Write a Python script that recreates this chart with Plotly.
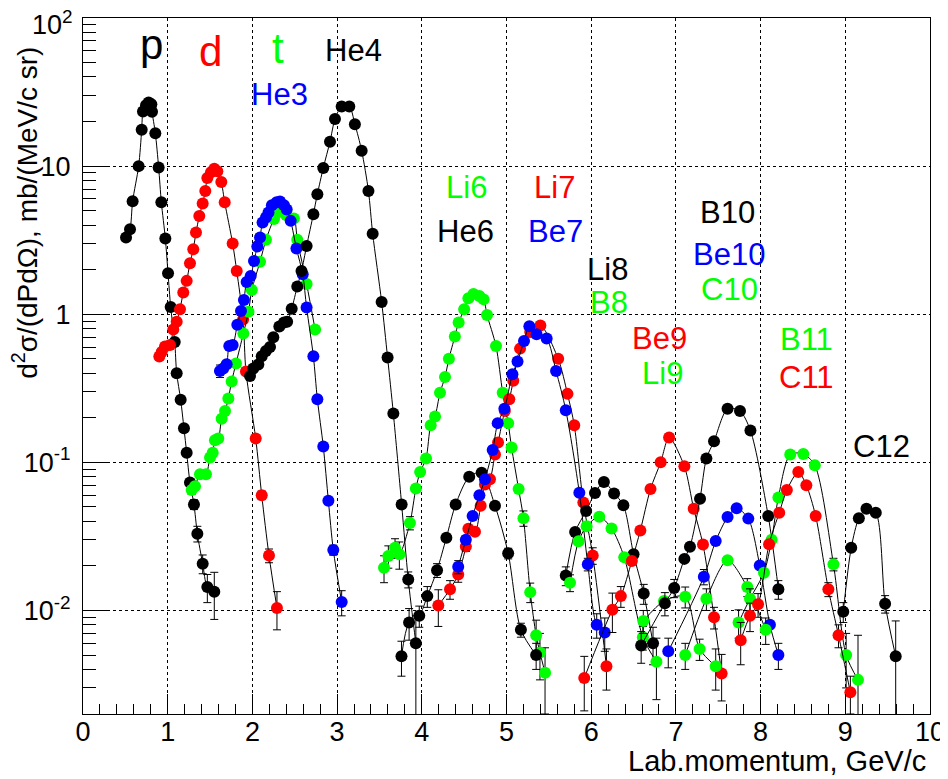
import plotly.graph_objects as go
import math

# ---------------- data ----------------
p_x = [0.508,0.555,0.586,0.657,0.693,0.708,0.744,0.775,0.807,0.815,0.854,0.893,0.925,0.972,1.004,1.035,1.083,1.106,1.153,1.192,1.224,1.263,1.310,1.350,1.413,1.468,1.550]
p_y = [3.3,3.75,5.8,10,17.6,23.4,25.8,26.9,26.2,23.3,16.7,9.8,5.7,3.25,1.89,1.12,0.65,0.40,0.265,0.17,0.116,0.073,0.052,0.033,0.0207,0.0144,0.0134]
p_err = [0,0,0,0,0,0,0,0,0,0,0,0,0,0,0,0,0,0,0,0,0,0,0.004,0.004,0.003,0.0031,0.0047]

d_x = [0.901,0.929,0.968,1.027,1.066,1.106,1.145,1.184,1.224,1.263,1.302,1.334,1.373,1.413,1.444,1.468,1.511,1.550,1.586,1.633,1.673,1.767,1.815,1.890,1.924,2.039,2.110,2.196,2.290]
d_y = [0.518,0.556,0.605,0.62,0.79,0.89,1.08,1.40,1.68,2.21,2.75,3.56,4.6,5.6,6.8,8.3,9.1,9.6,9.25,7.8,5.7,3.0,1.96,0.92,0.41,0.145,0.06,0.0235,0.0104]
d_err = [0.03,0,0,0,0,0,0,0,0,0,0,0,0,0,0,0,0,0,0,0,0,0,0,0,0,0.006,0.004,0.0025,0.003]

t_x = [1.283,1.322,1.381,1.452,1.500,1.531,1.558,1.597,1.637,1.677,1.716,1.755,1.806,1.893,1.954,1.993,2.090,2.160,2.255,2.310,2.397,2.490,2.530,2.640,2.740]
t_y = [0.065,0.069,0.083,0.083,0.108,0.116,0.141,0.145,0.197,0.222,0.270,0.352,0.465,0.740,1.04,1.46,2.26,3.18,4.40,4.90,4.67,4.43,3.18,1.60,0.79]
t_err = [0.004,0.004,0.005,0.005,0,0,0,0,0,0,0,0,0,0,0,0,0,0,0,0,0,0,0,0,0]

he3_x = [1.617,1.656,1.696,1.727,1.767,1.822,1.865,1.900,1.932,1.980,2.019,2.058,2.090,2.120,2.160,2.190,2.230,2.286,2.326,2.373,2.405,2.452,2.520,2.594,2.640,2.720,2.767,2.837,2.897,2.955,3.054]
he3_y = [0.414,0.43,0.46,0.61,0.62,0.85,1.05,1.25,1.65,1.81,2.29,2.87,3.3,4.17,4.5,4.87,5.45,5.7,5.77,5.45,5.1,4.27,2.78,1.86,1.11,0.52,0.267,0.128,0.055,0.0256,0.0114]
he3_err = [0.04,0,0,0,0,0,0,0,0,0,0,0,0,0,0,0,0,0,0,0,0,0,0,0,0,0,0,0,0.003,0.002,0.0022]

he4_x = [1.972,2.010,2.070,2.110,2.160,2.208,2.247,2.318,2.373,2.410,2.464,2.530,2.580,2.640,2.720,2.767,2.837,2.916,2.975,3.054,3.144,3.210,3.290,3.370,3.420,3.526,3.596,3.664,3.762,3.840,3.930]
he4_y = [0.383,0.43,0.457,0.52,0.565,0.60,0.70,0.826,0.88,0.89,1.09,1.54,1.96,2.89,4.74,6.46,9.73,14.6,20.8,25.3,25.3,19.2,12.7,6.8,3.5,1.21,0.51,0.214,0.052,0.0162,0.006]
he4_err = [0,0,0,0,0,0,0,0,0,0,0,0,0,0,0,0,0,0,0,0,0,0,0,0,0,0,0,0,0.003,0.002,0.0032]
he4_errm = [0,0,0,0,0,0,0,0,0,0,0,0,0,0,0,0,0,0,0,0,0,0,0,0,0,0,0,0,0.003,0.002,0.0058]

li6_x = [3.554,3.605,3.684,3.735,3.860,3.930,3.980,4.050,4.105,4.156,4.215,4.274,4.320,4.390,4.435,4.500,4.550,4.610,4.680,4.730,4.770,4.876,4.955,5.020,5.060,5.143,5.200,5.280,5.350,5.395,5.455]
li6_y = [0.0194,0.0233,0.0265,0.024,0.039,0.0667,0.086,0.106,0.178,0.204,0.295,0.377,0.50,0.707,0.88,1.08,1.28,1.37,1.33,1.26,0.99,0.61,0.295,0.184,0.126,0.066,0.042,0.0133,0.0068,0.0052,0.0038]
li6_err = [0.004,0.004,0.004,0.005,0.004,0,0,0,0,0,0,0,0,0,0,0,0,0,0,0,0,0,0,0,0,0,0.005,0.002,0.0018,0.0018,0.0018]

he6_x = [3.760,3.850,3.970,4.065,4.180,4.290,4.400,4.560,4.706,4.864,5.020,5.170,5.350]
he6_y = [0.0049,0.0083,0.0092,0.0125,0.0187,0.031,0.052,0.080,0.085,0.051,0.0243,0.0074,0.0050]
he6_err = [0.0013,0.002,0.0015,0.002,0.002,0,0,0,0,0,0.002,0.0008,0.001]

li7_x = [4.195,4.333,4.430,4.520,4.550,4.628,4.695,4.746,4.805,4.864,4.900,4.980,5.033,5.080,5.160,5.280,5.400,5.610,5.720,5.800,5.907,6.018,6.180]
li7_y = [0.0108,0.0139,0.0175,0.027,0.0356,0.034,0.051,0.071,0.077,0.113,0.136,0.222,0.267,0.355,0.586,0.76,0.84,0.50,0.29,0.178,0.0536,0.0235,0.0042]
li7_err = [0.003,0.002,0.002,0.002,0,0,0,0,0,0,0,0,0,0,0,0,0,0,0,0,0,0.003,0.0013]

be7_x = [4.430,4.520,4.600,4.680,4.746,4.837,4.896,4.975,5.070,5.130,5.207,5.270,5.355,5.474,5.585,5.700,5.860,5.960,6.065,6.160]
be7_y = [0.0197,0.030,0.0434,0.060,0.077,0.121,0.184,0.23,0.394,0.48,0.66,0.83,0.733,0.685,0.414,0.225,0.0624,0.0205,0.008,0.0071]
be7_err = [0.002,0.002,0,0,0,0,0,0,0,0,0,0,0,0,0,0,0,0.002,0.0015,0.0018]

li8_x = [5.70,5.81,5.94,6.045,6.15,6.27,6.38,6.50,6.62,6.73]
li8_y = [0.0172,0.0339,0.047,0.062,0.0736,0.0617,0.0514,0.024,0.013,0.006]
li8_err = [0.0025,0,0,0,0,0,0,0,0.002,0.0017]

b8_x = [5.75,5.85,5.946,6.095,6.24,6.39,6.61,6.77]
b8_y = [0.0154,0.0293,0.037,0.043,0.0358,0.0229,0.0066,0.0045]
b8_err = [0.002,0,0,0,0,0,0.0012,0.002]

be9_x = [5.918,6.25,6.35,6.48,6.58,6.70,6.82,6.92,7.10,7.21,7.32,7.45,7.54]
be9_y = [0.0035,0.0101,0.0125,0.0216,0.0347,0.066,0.10,0.147,0.094,0.0486,0.0279,0.009,0.00375]
be9_err = [0.0014,0.003,0.002,0,0,0,0,0,0,0,0,0.0015,0.0013]

li9_x = [6.615,6.86,7.11,7.28,7.47]
li9_y = [0.0085,0.0116,0.0124,0.0055,0.0042]
li9_err = [0.0015,0,0.002,0.0009,0.0013]

b10_x = [6.59,6.87,6.98,7.10,7.166,7.285,7.36,7.45,7.61,7.757,7.88,8.09,8.21]
b10_y = [0.0058,0.0112,0.0142,0.0223,0.0269,0.0568,0.106,0.139,0.23,0.222,0.164,0.0434,0.0139]
b10_err = [0.0014,0.002,0.002,0,0,0,0,0,0,0,0,0,0.002]

be10_x = [6.91,7.33,7.47,7.61,7.717,7.855,7.99,8.11,8.21]
be10_y = [0.0053,0.0169,0.0294,0.0427,0.049,0.0417,0.0201,0.008,0.005]
be10_err = [0.0012,0.002,0,0,0,0,0,0,0.001]

c10_x = [7.11,7.36,7.61,7.843,8.06]
c10_y = [0.0050,0.012,0.0218,0.0144,0.0074]
c10_err = [0.001,0.002,0,0.002,0.0015]

b11_x = [7.74,7.875,8.04,8.13,8.21,8.35,8.504,8.64,8.86,9.01,9.15]
b11_y = [0.0083,0.012,0.018,0.030,0.058,0.113,0.114,0.0955,0.0205,0.005,0.0034]
b11_err = [0.0018,0.002,0,0,0,0,0,0,0.002,0.002,0.0034]
b11_errm = [0.0018,0.002,0,0,0,0,0,0,0.002,0.002,0.0033]

c11_x = [7.765,7.875,7.97,8.10,8.22,8.31,8.445,8.54,8.65,8.80,8.92,9.06]
c11_y = [0.0063,0.0092,0.011,0.028,0.0457,0.065,0.086,0.07,0.0434,0.0139,0.0068,0.0028]
c11_err = [0.002,0.002,0.002,0,0,0,0,0,0,0.0015,0.0012,0.0008]

c12_x = [8.976,9.07,9.16,9.25,9.36,9.47,9.595]
c12_y = [0.0098,0.0265,0.0419,0.0486,0.0457,0.0111,0.0049]
c12_err = [0.0015,0,0,0,0,0.0015,0.0036]
c12_errm = [0.0015,0,0,0,0,0.0015,0.003]

# y tick labels (the top one is drawn as a separate text so it stays inside the page)
y_tickvals = [0.01, 0.1, 1, 10, 100]
y_ticktext = ["10<sup>-2</sup>", "10<sup>-1</sup>", "1", "10", ""]
y_top_label = "10<sup>2</sup>"

# labels: text, colour, font size, position (GeV/c, log10 cross-section)
label_text  = ["p","d","t","He4","He3","Li6","He6","Li7","Be7","Li8","B8","Be9","Li9","B10","Be10","C10","B11","C11","C12"]
label_color = ["black","red","#00ff00","black","blue","#00ff00","black","red","blue","black","#00ff00","red","#00ff00","black","blue","#00ff00","#00ff00","red","black"]
label_size  = [42,42,42,31,31,31,31,31,31,31,31,31,31,31,31,31,31,31,31]
label_px    = [0.803,1.511,2.302,3.188,2.314,4.522,4.510,5.561,5.573,6.187,6.210,6.812,6.836,7.615,7.627,7.627,8.536,8.536,9.433]
label_pl    = [1.818,1.777,1.791,1.784,1.486,0.858,0.561,0.858,0.561,0.304,0.081,-0.162,-0.399,0.689,0.405,0.169,-0.169,-0.426,-0.892]

# ---------------- figure ----------------
RED, GREEN, BLUE, BLACK = "#ff0000", "#00ff00", "#0000ff", "#000000"
series = [
    (p_x, p_y, p_err, None, BLACK),
    (d_x, d_y, d_err, None, RED),
    (t_x, t_y, t_err, None, GREEN),
    (he3_x, he3_y, he3_err, None, BLUE),
    (he4_x, he4_y, he4_err, he4_errm, BLACK),
    (li6_x, li6_y, li6_err, None, GREEN),
    (he6_x, he6_y, he6_err, None, BLACK),
    (li7_x, li7_y, li7_err, None, RED),
    (be7_x, be7_y, be7_err, None, BLUE),
    (li8_x, li8_y, li8_err, None, BLACK),
    (b8_x, b8_y, b8_err, None, GREEN),
    (be9_x, be9_y, be9_err, None, RED),
    (li9_x, li9_y, li9_err, None, GREEN),
    (b10_x, b10_y, b10_err, None, BLACK),
    (be10_x, be10_y, be10_err, None, BLUE),
    (c10_x, c10_y, c10_err, None, GREEN),
    (b11_x, b11_y, b11_err, b11_errm, GREEN),
    (c11_x, c11_y, c11_err, None, RED),
    (c12_x, c12_y, c12_err, c12_errm, BLACK),
]

fig = go.Figure()
for xs, ys, ep, em, col in series:
    fig.add_trace(go.Scatter(
        x=xs, y=ys, mode="lines+markers",
        line=dict(color="black", width=1, shape="spline", smoothing=0.8),
        marker=dict(color=col, size=12, line=dict(width=0)),
        error_y=dict(type="data", array=ep, arrayminus=(em if em is not None else ep),
                     symmetric=False, color="black", thickness=1, width=4),
        showlegend=False, hoverinfo="skip"))

FONT = "Liberation Sans, Arial, Helvetica, sans-serif"

for txt, col, sz, lx, ly in zip(label_text, label_color, label_size, label_px, label_pl):
    fig.add_annotation(x=lx, y=ly, xref="x", yref="y", text=txt, showarrow=False,
                       font=dict(family=FONT, size=sz, color=col),
                       xanchor="center", yanchor="middle")

# top y tick label
fig.add_annotation(xref="paper", yref="paper", x=-0.0095, y=0.993, text=y_top_label,
                   showarrow=False, xanchor="right", yanchor="middle",
                   font=dict(family=FONT, size=27, color="black"))

# axis titles
fig.add_annotation(xref="paper", yref="paper", x=0.9976, y=-0.067, text="Lab.momentum, GeV/c",
                   showarrow=False, xanchor="right", yanchor="middle",
                   font=dict(family=FONT, size=29, color="black"))
fig.add_annotation(xref="paper", yref="paper", x=-0.068, y=0.962,
                   text="d<sup>2</sup>σ/(dPdΩ), mb/(MeV/c sr)", textangle=-90,
                   showarrow=False, xanchor="center", yanchor="top",
                   font=dict(family=FONT, size=28, color="black"))

ymin_log = math.log10(0.002)
minor_y = [m * 10.0 ** e for e in range(-3, 2) for m in range(2, 10) if 0.002 <= m * 10.0 ** e <= 100]

# the page body adds an 8 px offset, so the figure is 8 px smaller than the window
fig.update_layout(
    width=940, height=771,
    margin=dict(l=75, r=18, t=10, b=65, autoexpand=False),
    paper_bgcolor="white", plot_bgcolor="white",
    font=dict(family=FONT, color="black"),
    xaxis=dict(range=[0, 10], tick0=0, dtick=1, ticks="inside", ticklen=20, tickwidth=1,
               tickcolor="black", showline=True, linecolor="black", linewidth=1, mirror=True,
               showgrid=True, gridcolor="black", griddash="dot", gridwidth=1, zeroline=False,
               automargin=False, ticklabeloverflow="allow", ticklabelstandoff=-6,
               tickfont=dict(size=27, family=FONT, color="black"),
               minor=dict(dtick=0.2, ticks="inside", ticklen=10, tickcolor="black", showgrid=False)),
    yaxis=dict(type="log", range=[ymin_log, 2.0001], tickmode="array",
               tickvals=y_tickvals, ticktext=y_ticktext,
               ticks="inside", ticklen=25, tickwidth=1, tickcolor="black",
               showline=True, linecolor="black", linewidth=1, mirror=True,
               showgrid=True, gridcolor="black", griddash="dot", gridwidth=1, zeroline=False,
               automargin=False, ticklabeloverflow="allow", ticklabelstandoff=6,
               tickfont=dict(size=27, family=FONT, color="black"),
               minor=dict(tickmode="array", tickvals=minor_y, ticks="inside", ticklen=13,
                          tickcolor="black", showgrid=False)),
)

fig.write_html("out.html")
